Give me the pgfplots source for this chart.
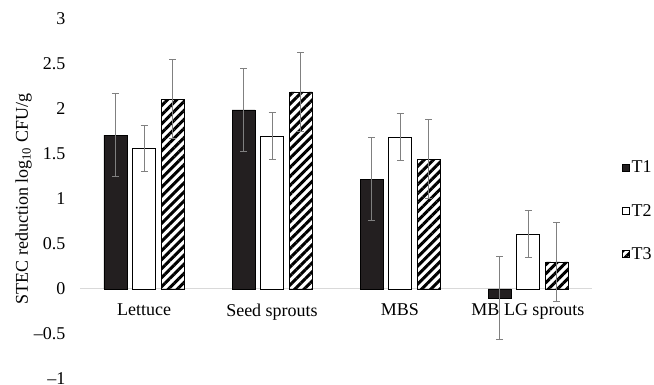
\documentclass[border=0pt]{standalone}
\usepackage{fontspec}
\setmainfont{Liberation Serif}
\usepackage{pgfplots}
\pgfplotsset{compat=1.18}
\usetikzlibrary{patterns.meta}
\definecolor{barblack}{HTML}{231F20}
\definecolor{errgray}{HTML}{808080}
\definecolor{zerogray}{HTML}{D9D9D9}
\begin{document}
\begin{tikzpicture}
\path[use as bounding box] (0,0) rectangle (654bp,385bp);
\begin{axis}[
  at={(80bp,6bp)}, anchor=south west,
  scale only axis, width=512bp, height=360bp,
  font=\fontsize{18bp}{21bp}\selectfont,
  /pgf/number format/assume math mode=true,
  xmin=-0.5, xmax=3.5, ymin=-1, ymax=3,
  axis x line*=middle, axis y line*=left,
  x axis line style={draw=zerogray, line width=1bp},
  y axis line style={draw=none},
  xtick={0,1,2,3}, xticklabels={Lettuce,Seed sprouts,MBS,MB LG sprouts},
  ytick={-1,-0.5,0,0.5,1,1.5,2,2.5,3},
  yticklabels={--1,--0.5,0,0.5,1,1.5,2,2.5,3},
  major tick length=0pt, tick style={draw=none},
  yticklabel style={xshift=-11bp},
  xticklabel style={yshift=-11bp},
  ylabel={STEC reduction log\textsubscript{10} CFU/g},
  ylabel style={at={(axis description cs:-0.11,0.5)}, anchor=center},
  ybar=5.5bp, bar width=23bp,
  legend style={draw=none, fill=none, at={(rel axis cs:1.052,0.467)}, anchor=west,
    row sep=26bp, font=\fontsize{18bp}{21bp}\selectfont},
  legend cell align=left,
  legend image code/.code={\draw[#1,line width=0.7bp] (0bp,-3.5bp) rectangle (7bp,3.5bp);},
  error bars/error bar style={errgray, line width=1bp},
  error bars/error mark options={rotate=90, mark size=3.5bp, errgray, line width=1bp},
]
\addplot[draw=black, fill=barblack, line width=0.7bp,
  error bars/.cd, y dir=both, y explicit]
  coordinates {(0,1.71) +- (0,0.46) (1,1.99) +- (0,0.46) (2,1.22) +- (0,0.46) (3,-0.10) +- (0,0.46)};
\addplot[draw=black, fill=white, line width=0.7bp,
  error bars/.cd, y dir=both, y explicit]
  coordinates {(0,1.56) +- (0,0.26) (1,1.70) +- (0,0.26) (2,1.69) +- (0,0.26) (3,0.61) +- (0,0.26)};
\addplot[draw=black, line width=0.7bp,
  pattern={Lines[angle=45, distance=6.4bp, line width=3bp]}, pattern color=black,
  error bars/.cd, y dir=both, y explicit]
  coordinates {(0,2.11) +- (0,0.44) (1,2.19) +- (0,0.44) (2,1.44) +- (0,0.44) (3,0.30) +- (0,0.44)};
\legend{T1,T2,T3}
\end{axis}
\end{tikzpicture}
\end{document}
